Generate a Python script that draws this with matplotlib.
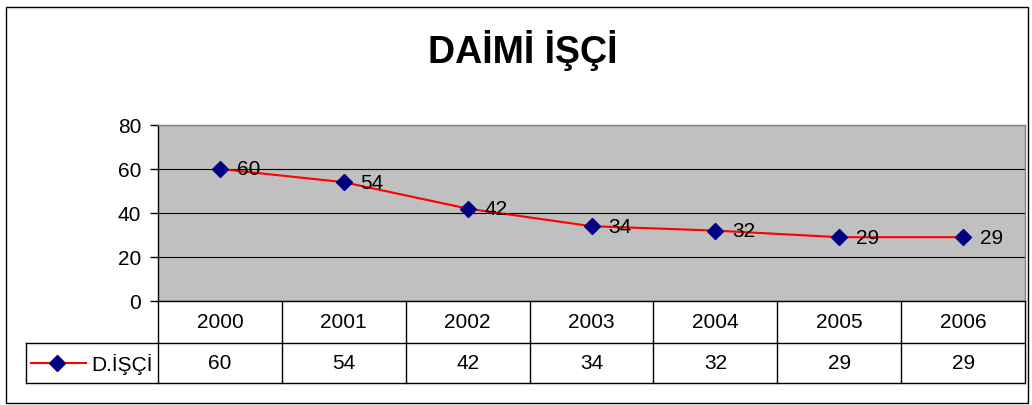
import matplotlib
matplotlib.use("Agg")
import matplotlib.pyplot as plt
from matplotlib.patches import Rectangle
from matplotlib.lines import Line2D
import matplotlib.transforms as mtransforms

plt.rcParams['font.family'] = ['Liberation Sans', 'DejaVu Sans']

title = "DAİMİ İŞÇİ"
series_name = "D.İŞÇİ"
years = ["2000", "2001", "2002", "2003", "2004", "2005", "2006"]
values = [60, 54, 42, 34, 32, 29, 29]
yticks = [0, 20, 40, 60, 80]

W, H = 1032, 406
fig = plt.figure(figsize=(W / 100, H / 100), dpi=100)
FS = 15
MS = 8

def fx(px):
    return px / W

def fy(py):
    return 1 - py / H

# outer border
fig.patches.append(Rectangle((fx(6), fy(404)), fx(1028) - fx(6), fy(8) - fy(404),
                             transform=fig.transFigure, fill=False, edgecolor='black',
                             linewidth=1.0))

left, right, top, bottom = 158, 1025, 126, 302
ax = fig.add_axes([fx(left), fy(bottom), fx(right) - fx(left), fy(top) - fy(bottom)])
ax.set_facecolor('#C0C0C0')
n = len(years)
x = list(range(n))
ax.set_xlim(-0.5, n - 0.5)
ax.set_ylim(0, 80)
ax.set_yticks(yticks)
ax.set_yticklabels([str(t) for t in yticks], fontsize=FS)
ax.tick_params(axis='y', length=6, width=1, pad=6, direction='out')
ax.set_xticks([])
ax.grid(axis='y', color='black', linewidth=0.8)
ax.set_axisbelow(True)
for s in ['top', 'right']:
    ax.spines[s].set_color('#808080')
    ax.spines[s].set_linewidth(1.0)
for s in ['left', 'bottom']:
    ax.spines[s].set_color('black')
    ax.spines[s].set_linewidth(1.0)

ax.plot(x, values, color='red', linewidth=1.5, zorder=3)
ax.plot(x, values, linestyle='none', marker='D', markersize=MS,
        markerfacecolor='#000080', markeredgecolor='#000080', zorder=4)
for xi, v in zip(x, values):
    ax.annotate(str(v), (xi, v), xytext=(12, 0), textcoords='offset points',
                fontsize=FS, va='center', ha='left', zorder=5)

# data table
ah = bottom - top
r1 = -(344 - bottom) / ah
r2 = -(384 - bottom) / ah
blend = mtransforms.blended_transform_factory(ax.transData, ax.transAxes)
ftrans = mtransforms.blended_transform_factory(fig.transFigure, ax.transAxes)

def seg(xs, ys, tr):
    ax.add_line(Line2D(xs, ys, transform=tr, color='black', linewidth=1.0, clip_on=False))

for b in range(n + 1):
    seg([b - 0.5, b - 0.5], [0, r2], blend)
seg([fx(26), fx(right)], [r1, r1], ftrans)
seg([fx(26), fx(right)], [r2, r2], ftrans)
seg([fx(26), fx(26)], [r1, r2], ftrans)

for xi, yr, v in zip(x, years, values):
    ax.text(xi, r1 / 2, yr, transform=blend, ha='center', va='center', fontsize=FS)
    ax.text(xi, (r1 + r2) / 2, str(v), transform=blend, ha='center', va='center', fontsize=FS)

# legend key in row header
ym = (r1 + r2) / 2
ax.add_line(Line2D([fx(31), fx(86)], [ym, ym], transform=ftrans, color='red',
                   linewidth=1.5, clip_on=False))
ax.add_line(Line2D([fx(57)], [ym], transform=ftrans, linestyle='none', marker='D',
                   markersize=MS, markerfacecolor='#000080', markeredgecolor='#000080',
                   clip_on=False))
ax.text(fx(91), ym, series_name, transform=ftrans, ha='left', va='center', fontsize=FS)

fig.text(fx(523), fy(63), title, ha='center', va='baseline', fontsize=27,
         fontweight='bold')

fig.savefig('out.png', dpi=100)
